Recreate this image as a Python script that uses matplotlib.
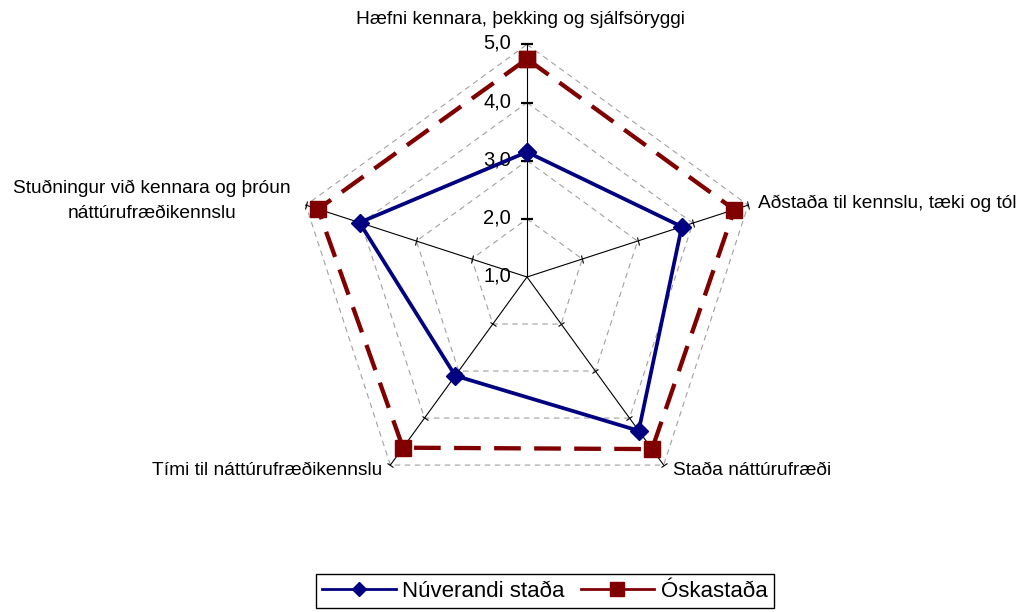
# -*- coding: utf-8 -*-
"""Radar chart: current vs desired state of science teaching."""

import numpy as np
import matplotlib.pyplot as plt
from matplotlib.lines import Line2D
from matplotlib.markers import MarkerStyle
from matplotlib.transforms import Affine2D

categories = ["Hæfni kennara, þekking og sjálfsöryggi",
              "Aðstaða til kennslu, tæki og tól",
              "Staða náttúrufræði",
              "Tími til náttúrufræðikennslu",
              "Stuðningur við kennara og þróun\nnáttúrufræðikennslu"]
nuverandi = [3.15, 3.80, 4.27, 3.10, 4.03]
oskastada = [4.75, 4.75, 4.66, 4.63, 4.78]
levels = [1.0, 2.0, 3.0, 4.0, 5.0]
level_labels = ["1,0", "2,0", "3,0", "4,0", "5,0"]

plt.rcParams['font.family'] = ['Liberation Sans', 'DejaVu Sans']

BLUE = '#000080'
RED = '#800000'
GRID = '#a0a0a0'

n = len(categories)
theta = np.deg2rad(np.arange(n) * 360.0 / n)
theta_c = np.append(theta, theta[0])

fig = plt.figure(figsize=(10.30, 6.12), dpi=100)
ax = fig.add_axes([0.2859, 0.1675, 0.4515, 0.7598], projection='polar')
ax.set_theta_offset(np.pi / 2)
ax.set_theta_direction(-1)
ax.set_ylim(levels[0], levels[-1])
ax.axis('off')

# dashed pentagon grid
for lvl in levels[1:]:
    ax.plot(theta_c, [lvl] * (n + 1), color=GRID, lw=0.8,
            ls=(0, (5, 4)), clip_on=False, zorder=1)

# spokes with small perpendicular ticks
for k, t in enumerate(theta):
    ax.plot([t, t], [levels[0], levels[-1]], color='black', lw=0.8,
            clip_on=False, zorder=2)
    ang = 90 - k * 360.0 / n
    mk = MarkerStyle('|', transform=Affine2D().rotate_deg(ang))
    ax.plot([t] * (len(levels) - 1), levels[1:], ls='none', marker=mk,
            ms=8 if k == 0 else 6, mew=1.6 if k == 0 else 0.8,
            color='black', clip_on=False, zorder=2)

# value labels on the top spoke
for lvl, lab in zip(levels, level_labels):
    ax.annotate(lab, xy=(0, lvl), xytext=(-16, 1), textcoords='offset pixels',
                ha='right', va='center', fontsize=14.5, annotation_clip=False)

# series
ax.plot(theta_c, np.append(oskastada, oskastada[0]), color=RED, lw=3.1,
        dashes=(6.2, 3.1), marker='s', ms=12, clip_on=False, zorder=3)
ax.plot(theta_c, np.append(nuverandi, nuverandi[0]), color=BLUE, lw=2.7,
        marker='D', ms=9.5, clip_on=False, zorder=4)

# category labels
offsets = [((-7, 20), 'center', 'baseline'),
           ((10, -2.5), 'left', 'baseline'),
           ((9, -10), 'left', 'baseline'),
           ((-8, -10), 'right', 'baseline'),
           ((-154, 4), 'center', 'center')]
for t, lab, (off, ha, va) in zip(theta, categories, offsets):
    ax.annotate(lab, xy=(t, levels[-1]), xytext=off,
                textcoords='offset pixels', ha=ha, va=va, fontsize=13.8,
                multialignment='center', linespacing=1.6,
                annotation_clip=False)

# legend (solid line for both entries as in the original)
handles = [Line2D([], [], color=BLUE, lw=2, marker='D', ms=7.5),
           Line2D([], [], color=RED, lw=2, marker='s', ms=10.5)]
leg = fig.legend(handles, ["Núverandi staða", "Óskastaða"], loc='center',
                 bbox_to_anchor=(0.529, 0.0343), ncol=2, fontsize=16,
                 frameon=True, fancybox=False, edgecolor='black',
                 framealpha=1, borderpad=0.3, handlelength=3.3,
                 handletextpad=0.3, columnspacing=0.7, borderaxespad=0)
leg.get_frame().set_linewidth(1.0)

fig.savefig("out.png", dpi=100)
